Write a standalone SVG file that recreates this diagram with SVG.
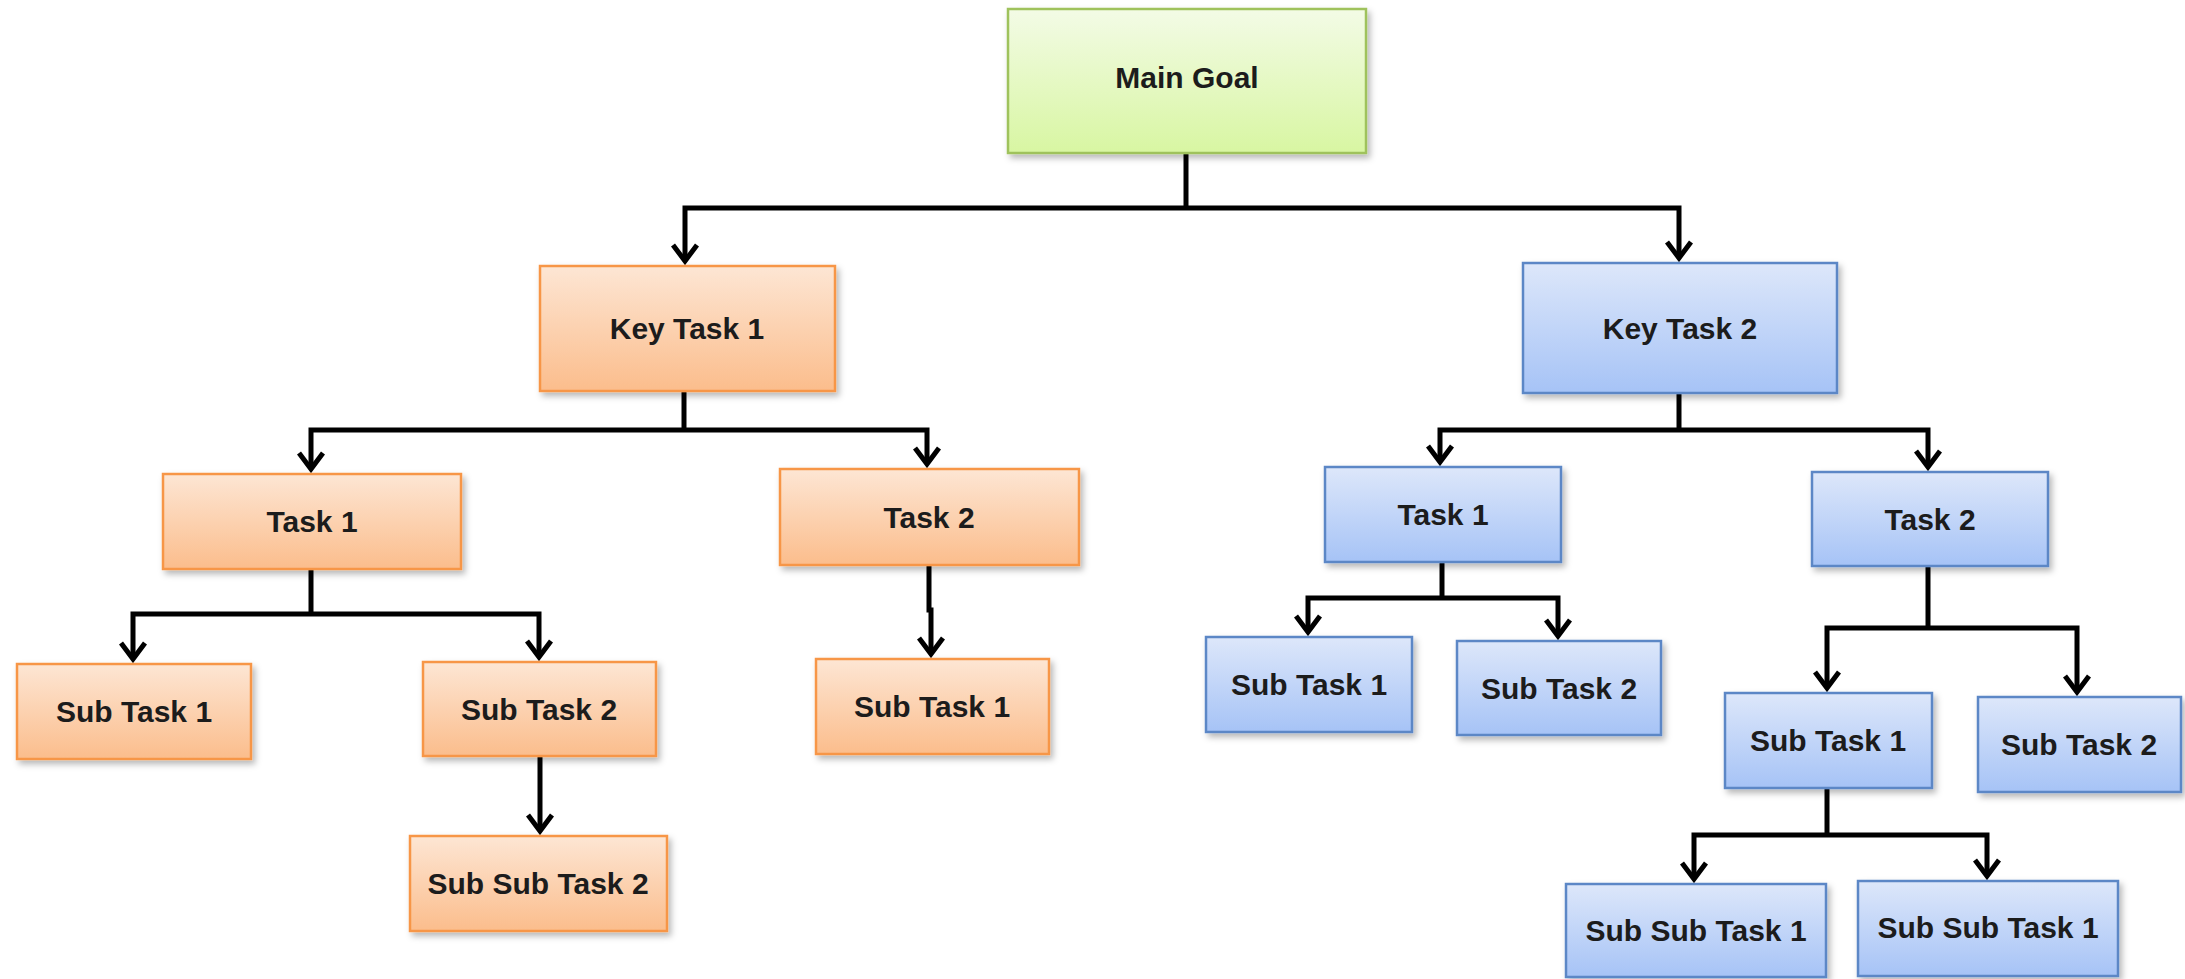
<svg xmlns="http://www.w3.org/2000/svg" width="2185" height="979" viewBox="0 0 2185 979">
  <defs>
    <linearGradient id="gGreen" x1="0" y1="0" x2="0" y2="1">
      <stop offset="0" stop-color="#f3fbe6"/>
      <stop offset="1" stop-color="#d8f6a2"/>
    </linearGradient>
    <linearGradient id="gOrange" x1="0" y1="0" x2="0" y2="1">
      <stop offset="0" stop-color="#fde6d4"/>
      <stop offset="1" stop-color="#fbbd8c"/>
    </linearGradient>
    <linearGradient id="gBlue" x1="0" y1="0" x2="0" y2="1">
      <stop offset="0" stop-color="#dde7fa"/>
      <stop offset="1" stop-color="#a6c3f6"/>
    </linearGradient>
    <filter id="shadow" x="-10%" y="-10%" width="130%" height="140%">
      <feDropShadow dx="3" dy="4" stdDeviation="3" flood-color="#000" flood-opacity="0.28"/>
    </filter>
    <marker id="arrow" markerUnits="userSpaceOnUse" markerWidth="40" markerHeight="40" viewBox="-20 -20 40 40" refX="0" refY="0" orient="auto" overflow="visible">
      <path d="M-16,-12 L0,0 L-16,12" fill="none" stroke="#000" stroke-width="5" stroke-linejoin="miter"/>
    </marker>
    <style>
      .green { fill: url(#gGreen); stroke: #9fc25c; stroke-width: 2.5; filter: url(#shadow); }
      .orange { fill: url(#gOrange); stroke: #f79646; stroke-width: 2.5; filter: url(#shadow); }
      .blue { fill: url(#gBlue); stroke: #5b87c6; stroke-width: 2.5; filter: url(#shadow); }
      .label { font-family: "Liberation Sans", Arial, sans-serif; font-weight: bold; font-size: 30px; fill: #1c1c1c; text-anchor: middle; }
      .link { fill: none; stroke: #000; stroke-width: 5; stroke-linejoin: miter; }
      .arr { marker-end: url(#arrow); }
    </style>
  </defs>

  <rect width="2185" height="979" fill="#ffffff"/>

  <!-- connectors -->
  <g id="connectors">
    <path class="link" d="M1186,153 V208"/>
    <path class="link arr" d="M1186,208 H685 V261"/>
    <path class="link arr" d="M1186,208 H1679 V258"/>

    <path class="link" d="M684,391 V430"/>
    <path class="link arr" d="M684,430 H311 V469"/>
    <path class="link arr" d="M684,430 H927 V464"/>

    <path class="link" d="M1679,393 V430"/>
    <path class="link arr" d="M1679,430 H1440 V462"/>
    <path class="link arr" d="M1679,430 H1928 V467"/>

    <path class="link" d="M311,568 V614"/>
    <path class="link arr" d="M311,614 H133 V659"/>
    <path class="link arr" d="M311,614 H539 V657"/>

    <path class="link arr" d="M540,756 V831"/>

    <path class="link arr" d="M929,565 V610 H931 V654"/>

    <path class="link" d="M1442,562 V598"/>
    <path class="link arr" d="M1442,598 H1308 V632"/>
    <path class="link arr" d="M1442,598 H1558 V636"/>

    <path class="link" d="M1928,566 V628"/>
    <path class="link arr" d="M1928,628 H1827 V688"/>
    <path class="link arr" d="M1928,628 H2077 V692"/>

    <path class="link" d="M1827,788 V835"/>
    <path class="link arr" d="M1827,835 H1694 V879"/>
    <path class="link arr" d="M1827,835 H1987 V876"/>
  </g>

  <!-- top goal -->
  <g id="main-goal">
    <rect class="green" x="1008" y="9" width="358" height="144"/>
    <text class="label" x="1187" y="88">Main Goal</text>
  </g>

  <!-- first branch -->
  <g id="key-task-1">
    <rect class="orange" x="540" y="266" width="295" height="125"/>
    <text class="label" x="687" y="339">Key Task 1</text>
  </g>
  <g id="kt1-task-1">
    <rect class="orange" x="163" y="474" width="298" height="95"/>
    <text class="label" x="312" y="532">Task 1</text>
  </g>
  <g id="kt1-task-2">
    <rect class="orange" x="780" y="469" width="299" height="96"/>
    <text class="label" x="929" y="528">Task 2</text>
  </g>
  <g id="kt1-t1-sub-task-1">
    <rect class="orange" x="17" y="664" width="234" height="95"/>
    <text class="label" x="134" y="722">Sub Task 1</text>
  </g>
  <g id="kt1-t1-sub-task-2">
    <rect class="orange" x="423" y="662" width="233" height="94"/>
    <text class="label" x="539" y="720">Sub Task 2</text>
  </g>
  <g id="kt1-t1-sub-sub-task-2">
    <rect class="orange" x="410" y="836" width="257" height="95"/>
    <text class="label" x="538" y="894">Sub Sub Task 2</text>
  </g>
  <g id="kt1-t2-sub-task-1">
    <rect class="orange" x="816" y="659" width="233" height="95"/>
    <text class="label" x="932" y="717">Sub Task 1</text>
  </g>

  <!-- second branch -->
  <g id="key-task-2">
    <rect class="blue" x="1523" y="263" width="314" height="130"/>
    <text class="label" x="1680" y="339">Key Task 2</text>
  </g>
  <g id="kt2-task-1">
    <rect class="blue" x="1325" y="467" width="236" height="95"/>
    <text class="label" x="1443" y="525">Task 1</text>
  </g>
  <g id="kt2-task-2">
    <rect class="blue" x="1812" y="472" width="236" height="94"/>
    <text class="label" x="1930" y="530">Task 2</text>
  </g>
  <g id="kt2-t1-sub-task-1">
    <rect class="blue" x="1206" y="637" width="206" height="95"/>
    <text class="label" x="1309" y="695">Sub Task 1</text>
  </g>
  <g id="kt2-t1-sub-task-2">
    <rect class="blue" x="1457" y="641" width="204" height="94"/>
    <text class="label" x="1559" y="699">Sub Task 2</text>
  </g>
  <g id="kt2-t2-sub-task-1">
    <rect class="blue" x="1725" y="693" width="207" height="95"/>
    <text class="label" x="1828" y="751">Sub Task 1</text>
  </g>
  <g id="kt2-t2-sub-task-2">
    <rect class="blue" x="1978" y="697" width="203" height="95"/>
    <text class="label" x="2079" y="755">Sub Task 2</text>
  </g>
  <g id="kt2-t2-st1-sub-sub-task-1a">
    <rect class="blue" x="1566" y="884" width="260" height="93"/>
    <text class="label" x="1696" y="941">Sub Sub Task 1</text>
  </g>
  <g id="kt2-t2-st1-sub-sub-task-1b">
    <rect class="blue" x="1858" y="881" width="260" height="95"/>
    <text class="label" x="1988" y="938">Sub Sub Task 1</text>
  </g>
</svg>
